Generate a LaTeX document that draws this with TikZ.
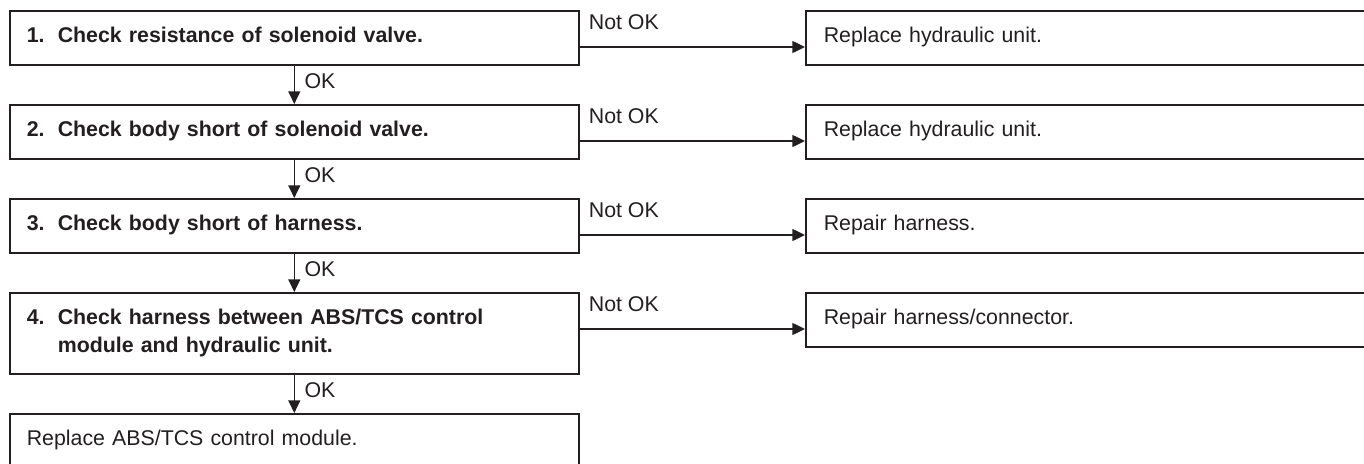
\documentclass[tikz,border=0pt]{standalone}
\usepackage{fontspec}
\setmainfont{Liberation Sans}
\usetikzlibrary{arrows.meta}
\definecolor{ink}{HTML}{231F20}
\begin{document}
\begin{tikzpicture}[x=0.75pt,y=-0.75pt,
  every node/.style={text=ink},
  boxbase/.style={draw=ink, line width=1.2pt, rectangle, anchor=north west,
    inner ysep=0pt, align=left, font=\fontsize{16}{21}\selectfont},
  lbox/.style={boxbase, inner xsep=12.75pt, text width=401.25pt,
    minimum height=40.5pt, font=\fontsize{16}{21}\selectfont\bfseries},
  endbox/.style={boxbase, inner xsep=12.75pt, text width=401.25pt,
    minimum height=40.5pt},
  rbox/.style={boxbase, inner xsep=13.5pt, text width=393.75pt,
    minimum height=40.5pt},
  one/.style={text height=11.25pt, text depth=3.75pt},
  arr/.style={draw=ink, line width=1pt, -{Triangle[length=9.5pt,width=9pt]}},
  lab/.style={anchor=base west, inner sep=0pt, font=\fontsize{16}{21}\selectfont}]
\useasboundingbox (0,0) rectangle (1364,464);
\clip (0,0) rectangle (1364,464);
\fill[white] (0,0) rectangle (1364,464);

% left column
\node[lbox, one] (L1) at (9,10) {\makebox[23.25pt][l]{1.}Check resistance of solenoid valve.};
\node[lbox, one] (L2) at (9,104) {\makebox[23.25pt][l]{2.}Check body short of solenoid valve.};
\node[lbox, one] (L3) at (9,198) {\makebox[23.25pt][l]{3.}Check body short of harness.};
\node[lbox, minimum height=60.75pt] (L4) at (9,292) {\makebox[23.25pt][l]{4.}Check harness between ABS/TCS control\\\hspace*{23.25pt}module and hydraulic unit.};
\node[endbox, one] (L5) at (9,413) {Replace ABS/TCS control module.};

% right column
\node[rbox, one] (R1) at (805,10) {Replace hydraulic unit.};
\node[rbox, one] (R2) at (805,104) {Replace hydraulic unit.};
\node[rbox, one] (R3) at (805,198) {Repair harness.};
\node[rbox, one] (R4) at (805,292) {Repair harness/connector.};

% vertical OK arrows
\draw[arr] (L1.south) -- (L2.north);
\draw[arr] (L2.south) -- (L3.north);
\draw[arr] (L3.south) -- (L4.north);
\draw[arr] (L4.south) -- (L5.north);
\node[lab] (ok1) at ([xshift=7.5pt,yshift=-17.25pt]L1.south) {OK};
\node[lab] (ok2) at ([xshift=7.5pt,yshift=-17.25pt]L2.south) {OK};
\node[lab] (ok3) at ([xshift=7.5pt,yshift=-17.25pt]L3.south) {OK};
\node[lab] (ok4) at ([xshift=7.5pt,yshift=-17.25pt]L4.south) {OK};

% horizontal Not OK arrows
\coordinate (a1) at (L1.north east |- 0,47);
\coordinate (a2) at (L2.north east |- 0,141);
\coordinate (a3) at (L3.north east |- 0,235);
\coordinate (a4) at (L4.north east |- 0,329);
\draw[arr] (a1) -- (a1 -| R1.west);
\draw[arr] (a2) -- (a2 -| R2.west);
\draw[arr] (a3) -- (a3 -| R3.west);
\draw[arr] (a4) -- (a4 -| R4.west);
\node[lab] (n1) at ([xshift=6.75pt,yshift=-14.25pt]L1.north east) {Not OK};
\node[lab] (n2) at ([xshift=6.75pt,yshift=-14.25pt]L2.north east) {Not OK};
\node[lab] (n3) at ([xshift=6.75pt,yshift=-14.25pt]L3.north east) {Not OK};
\node[lab] (n4) at ([xshift=6.75pt,yshift=-14.25pt]L4.north east) {Not OK};
\end{tikzpicture}
\end{document}
